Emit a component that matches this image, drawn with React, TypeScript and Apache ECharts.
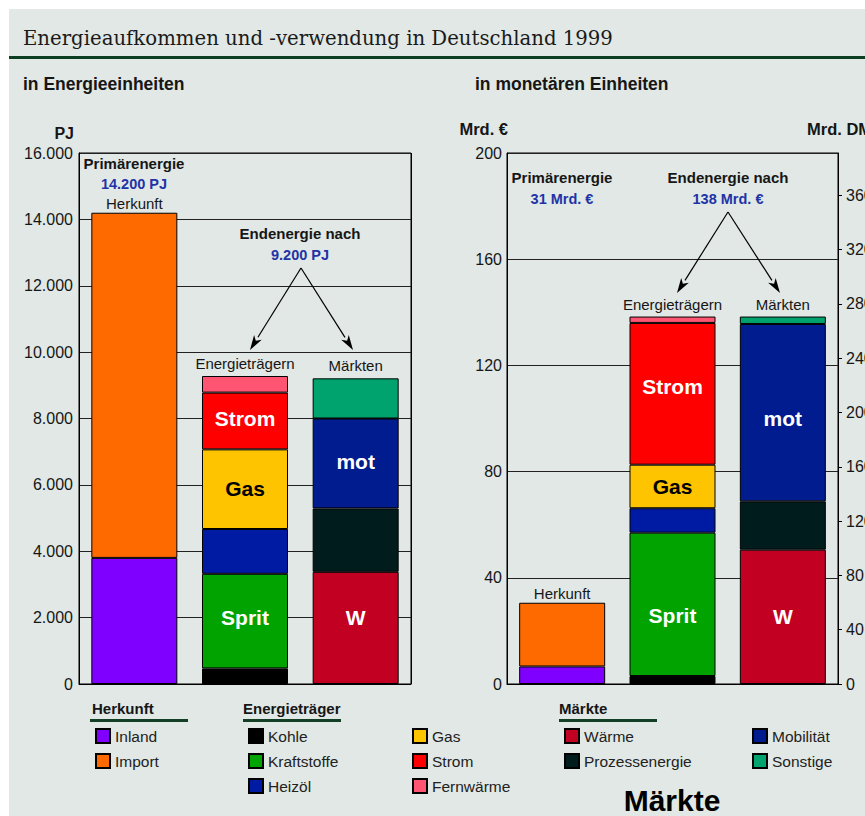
import React, { useEffect, useRef } from "react";
import * as echarts from "echarts";

// ---------- data ----------
const categories = ["Herkunft", "Energieträgern", "Märkten"];

const herkunftNames = ["Inland", "Import"];
const herkunftPJ = [3800, 10400];
const herkunftEUR = [6.6, 24.0];

const traegerNames = ["Kohle", "Kraftstoffe", "Heizöl", "Gas", "Strom", "Fernwärme"];
const traegerPJ = [470, 2850, 1350, 2400, 1710, 500];
const traegerEUR = [3.0, 54.0, 9.2, 16.4, 53.4, 2.4];

const maerkteNames = ["Wärme", "Prozessenergie", "Mobilität", "Sonstige"];
const maerktePJ = [3380, 1910, 2710, 1210];
const maerkteEUR = [50.6, 18.2, 66.8, 2.8];

const pjTicks = { min: 0, max: 16000, interval: 2000 };
const eurTicks = { min: 0, max: 200, interval: 40 };
const DM_PER_EUR = 1.95583;
const dmTickValues = [0, 40, 80, 120, 160, 200, 240, 280, 320, 360];

const inlineLabels: Record<string, string> = {
  Kraftstoffe: "Sprit",
  Gas: "Gas",
  Strom: "Strom",
  Mobilität: "mot",
  Wärme: "W",
};
const topLabels: Record<string, string> = {
  Import: "Herkunft",
  Fernwärme: "Energieträgern",
  Sonstige: "Märkten",
};

const colors: Record<string, string> = {
  Inland: "#8000FF",
  Import: "#FF6A00",
  Kohle: "#000000",
  Kraftstoffe: "#00A300",
  Heizöl: "#001BA3",
  Gas: "#FFC400",
  Strom: "#FF0000",
  Fernwärme: "#FF5572",
  Wärme: "#C20022",
  Prozessenergie: "#001C1C",
  Mobilität: "#001C8E",
  Sonstige: "#00A36E",
};

// ---------- styling ----------
const FN = '"Liberation Sans",Arial,Roboto,sans-serif';
const BG = "#E1E8E5";
const BLUE = "#1F33A6";
const TXT = "#161616";

// small vertical nudges of the inline labels, per chart
const labelNudge: Record<string, number>[] = [
  { W: -10, Sprit: -4, mot: -2, Strom: -2, Gas: -1 },
  { W: 0, Sprit: 11, mot: 6, Strom: -7, Gas: 0 },
];

const fmtThousands = (v: number) =>
  String(v).replace(/\B(?=(\d{3})+(?!\d))/g, ".");

function makeSeries(name: string, grid: number, catIdx: number, value: number) {
  const data: any[] = ["-", "-", "-"];
  data[catIdx] = value;
  let label: any = { show: false };
  if (inlineLabels[name]) {
    const t = inlineLabels[name];
    label = {
      show: true,
      position: "inside",
      offset: [0, labelNudge[grid][t] || 0],
      formatter: t,
      color: name === "Gas" ? "#000" : "#fff",
      fontFamily: FN,
      fontWeight: "bold",
      fontSize: 21,
    };
  } else if (topLabels[name]) {
    label = {
      show: true,
      position: "top",
      distance: name === "Import" ? 2 : 5,
      formatter: topLabels[name],
      color: TXT,
      fontFamily: FN,
      fontSize: 15,
    };
  }
  return {
    type: "bar",
    name,
    xAxisIndex: grid,
    yAxisIndex: grid === 0 ? 0 : 1,
    stack: "s" + grid,
    barWidth: 86,
    data,
    label,
    itemStyle: { color: colors[name], borderColor: "#000", borderWidth: 1 },
    emphasis: { disabled: true },
  };
}

function arrow(x1: number, y1: number, x2: number, y2: number) {
  const dx = x2 - x1;
  const dy = y2 - y1;
  const len = Math.sqrt(dx * dx + dy * dy);
  const ux = dx / len;
  const uy = dy / len;
  const hl = 15;
  const hw = 4.5;
  const bx = x2 - ux * hl;
  const by = y2 - uy * hl;
  const nx = x2 - ux * (hl - 4);
  const ny = y2 - uy * (hl - 4);
  return [
    {
      type: "line",
      z: 50,
      shape: { x1, y1, x2: bx, y2: by },
      style: { stroke: "#000", lineWidth: 1.2 },
    },
    {
      type: "polygon",
      z: 50,
      shape: {
        points: [
          [x2, y2],
          [bx - uy * hw, by + ux * hw],
          [nx, ny],
          [bx + uy * hw, by - ux * hw],
        ],
      },
      style: { fill: "#000" },
    },
  ];
}

function txt(
  text: string,
  x: number,
  y: number,
  opts: { size?: number; bold?: boolean; color?: string; align?: string; family?: string } = {}
) {
  const size = opts.size ?? 15;
  const family = opts.family ?? FN;
  return {
    type: "text",
    z: 50,
    style: {
      text,
      x,
      y,
      fill: opts.color ?? TXT,
      font: `${opts.bold ? "bold " : ""}${size}px ${family}`,
      textAlign: opts.align ?? "center",
      textVerticalAlign: "middle",
    },
  };
}

function legendBlock(names: string[], left: number) {
  return {
    data: names,
    left,
    top: 723,
    orient: "vertical",
    icon: "rect",
    itemWidth: 14,
    itemHeight: 14,
    itemGap: 9,
    selectedMode: false,
    textStyle: { fontFamily: FN, fontSize: 15.5, lineHeight: 16, color: "#222" },
  };
}

export default function App() {
  const ref = useRef<HTMLDivElement>(null);

  useEffect(() => {
    if (!ref.current) return;
    const chart = echarts.init(ref.current, undefined, { renderer: "svg" });

    const series: any[] = [];
    herkunftNames.forEach((n, i) => series.push(makeSeries(n, 0, 0, herkunftPJ[i])));
    traegerNames.forEach((n, i) => series.push(makeSeries(n, 0, 1, traegerPJ[i])));
    maerkteNames.forEach((n, i) => series.push(makeSeries(n, 0, 2, maerktePJ[i])));
    herkunftNames.forEach((n, i) => series.push(makeSeries(n, 1, 0, herkunftEUR[i])));
    traegerNames.forEach((n, i) => series.push(makeSeries(n, 1, 1, traegerEUR[i])));
    maerkteNames.forEach((n, i) => series.push(makeSeries(n, 1, 2, maerkteEUR[i])));

    const xAxisBase = (gridIndex: number) => ({
      type: "category",
      gridIndex,
      data: categories,
      axisLine: { show: true, lineStyle: { color: "#000", width: 1 } },
      axisTick: { show: false },
      axisLabel: { show: false },
      splitLine: {
        show: true,
        interval: (idx: number) => idx === 1,
        lineStyle: { color: "#000", width: 1 },
      },
    });

    const axisLabelStyle = { fontFamily: FN, fontSize: 16, color: TXT };

    const graphics: any[] = [
      // white page border
      { type: "rect", z: 100, shape: { x: 0, y: 0, width: 865, height: 9 }, style: { fill: "#fff" } },
      { type: "rect", z: 100, shape: { x: 0, y: 0, width: 9, height: 816 }, style: { fill: "#fff" } },
      // title
      txt("Energieaufkommen und -verwendung in Deutschland 1999", 23, 38, {
        size: 19.7,
        align: "left",
        family: '"DejaVu Serif","Liberation Serif",serif',
        color: "#1a1a1a",
      }),
      { type: "rect", z: 50, shape: { x: 9, y: 56, width: 856, height: 3 }, style: { fill: "#0C3E22" } },
      txt("in Energieeinheiten", 23, 84, { size: 17.5, bold: true, align: "left" }),
      txt("in monetären Einheiten", 475, 84, { size: 17.5, bold: true, align: "left" }),
      // axis names
      txt("PJ", 74, 133, { size: 16, bold: true, align: "right" }),
      txt("Mrd. €", 508, 129, { size: 16.5, bold: true, align: "right" }),
      txt("Mrd. DM", 807, 129, { size: 16.5, bold: true, align: "left" }),
      // left chart annotations
      txt("Primärenergie", 134, 163, { size: 15, bold: true }),
      txt("14.200 PJ", 134, 184, { size: 14.5, bold: true, color: BLUE }),
      txt("Endenergie nach", 300, 233, { size: 15, bold: true }),
      txt("9.200 PJ", 300, 255, { size: 14.5, bold: true, color: BLUE }),
      ...arrow(301, 268, 250, 350),
      ...arrow(301, 268, 353, 350),
      // right chart annotations
      txt("Primärenergie", 562, 177, { size: 15, bold: true }),
      txt("31 Mrd. €", 562, 199, { size: 14.5, bold: true, color: BLUE }),
      txt("Endenergie nach", 728, 177, { size: 15, bold: true }),
      txt("138 Mrd. €", 728, 199, { size: 14.5, bold: true, color: BLUE }),
      ...arrow(728, 212, 677, 293),
      ...arrow(728, 212, 780, 293),
      // legend headers
      txt("Herkunft", 92, 708, { size: 15, bold: true, align: "left" }),
      { type: "rect", z: 50, shape: { x: 90, y: 719, width: 98, height: 3 }, style: { fill: "#123F26" } },
      txt("Energieträger", 243, 708, { size: 15, bold: true, align: "left" }),
      { type: "rect", z: 50, shape: { x: 243, y: 719, width: 98, height: 3 }, style: { fill: "#123F26" } },
      txt("Märkte", 559, 708, { size: 15, bold: true, align: "left" }),
      { type: "rect", z: 50, shape: { x: 559, y: 719, width: 98, height: 3 }, style: { fill: "#123F26" } },
      txt("Märkte", 672, 800, {
        size: 30,
        bold: true,
        family: '"Liberation Sans",Arial,sans-serif',
        color: "#000",
      }),
    ];

    chart.setOption({
      animation: false,
      backgroundColor: BG,
      grid: [
        {
          left: 79, top: 153, width: 332, height: 531, show: true,
          borderColor: "#000", borderWidth: 1, backgroundColor: "transparent",
          outerBoundsMode: "none", containLabel: false,
        },
        {
          left: 507, top: 153, width: 331, height: 531, show: true,
          borderColor: "#000", borderWidth: 1, backgroundColor: "transparent",
          outerBoundsMode: "none", containLabel: false,
        },
      ],
      xAxis: [xAxisBase(0), xAxisBase(1)],
      yAxis: [
        {
          type: "value",
          gridIndex: 0,
          min: pjTicks.min,
          max: pjTicks.max,
          interval: pjTicks.interval,
          axisLine: { show: true, lineStyle: { color: "#000" } },
          axisTick: { show: false },
          axisLabel: { ...axisLabelStyle, margin: 6, formatter: (v: number) => fmtThousands(v) },
          splitLine: { show: true, lineStyle: { color: "#222", width: 1 } },
        },
        {
          type: "value",
          gridIndex: 1,
          min: eurTicks.min,
          max: eurTicks.max,
          interval: eurTicks.interval,
          axisLine: { show: true, lineStyle: { color: "#000" } },
          axisTick: { show: false },
          axisLabel: { ...axisLabelStyle, margin: 5 },
          splitLine: { show: true, lineStyle: { color: "#222", width: 1 } },
        },
        {
          type: "value",
          gridIndex: 1,
          position: "right",
          min: 0,
          max: eurTicks.max * DM_PER_EUR,
          interval: 40,
          axisLine: { show: true, lineStyle: { color: "#000" } },
          axisTick: { show: true, length: 4, lineStyle: { color: "#000" }, customValues: dmTickValues },
          axisLabel: {
            ...axisLabelStyle,
            margin: 8,
            customValues: dmTickValues,
            formatter: (v: number) => (dmTickValues.indexOf(v) >= 0 ? String(v) : ""),
          },
          splitLine: { show: false },
        },
      ],
      legend: [
        legendBlock(herkunftNames, 90),
        legendBlock(traegerNames.slice(0, 3), 243),
        legendBlock(traegerNames.slice(3), 407),
        legendBlock(maerkteNames.slice(0, 2), 559),
        legendBlock(maerkteNames.slice(2), 747),
      ],
      graphic: graphics,
      series,
    });

    return () => chart.dispose();
  }, []);

  return (
    <div
      ref={ref}
      style={{ position: "absolute", left: 0, top: 0, width: 865, height: 816 }}
    />
  );
}
